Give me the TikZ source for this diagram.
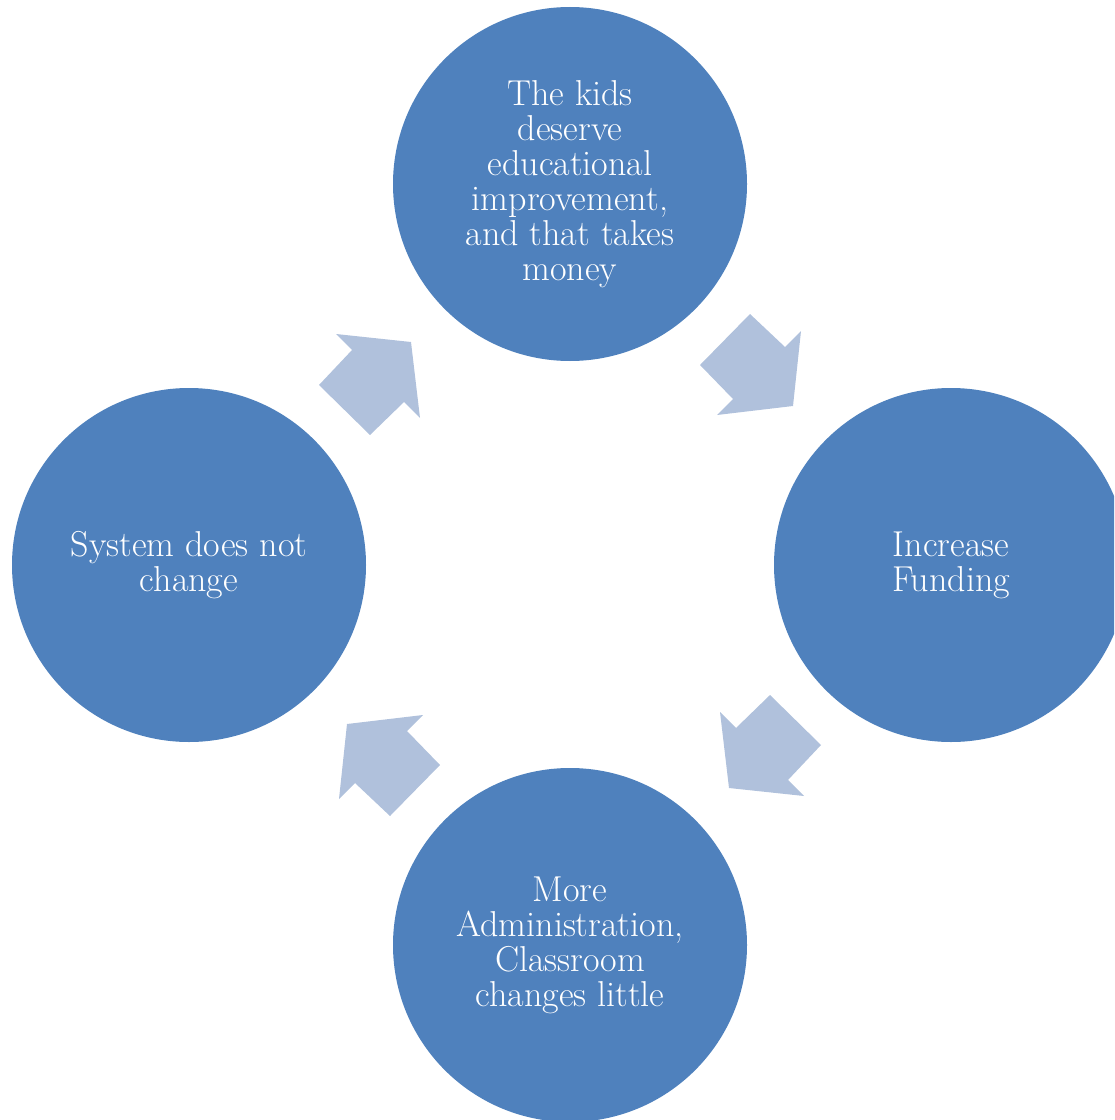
\documentclass[tikz,border=0pt]{standalone}
\usepackage{fontspec}
\definecolor{circblue}{RGB}{79,129,189}
\definecolor{arrowblue}{RGB}{176,193,220}
\begin{document}
\begin{tikzpicture}[x=0.75pt,y=-0.75pt,
  stage/.style={circle, fill=circblue, minimum size=265.5pt, inner sep=0pt,
    text=white, align=center, font=\fontsize{27}{26.25}\selectfont},
  blockarrow/.style={fill=arrowblue}]
\useasboundingbox (0,0) rectangle (1114,1120);
\clip (0,0) rectangle (1114,1120);
\node[stage] (top) at (570,184) {The kids\\deserve\\educational\\improvement,\\and that takes\\money};
\node[stage] (right) at (951,565) {Increase\\Funding};
\node[stage] (bottom) at (570,945) {More\\Administration,\\Classroom\\changes little};
\node[stage] (left) at (189,565) {System does not\\change};
% block arrows (cycle, rotated copies)
\fill[blockarrow] (801,331) -- (793,406) -- (717,415) -- (733,399) -- (700,365) -- (750,314) -- (785,347) -- cycle;
\fill[blockarrow] (804,796) -- (729,788) -- (720,712) -- (736,728) -- (770,695) -- (821,745) -- (788,780) -- cycle;
\fill[blockarrow] (339,799) -- (347,724) -- (423,715) -- (407,731) -- (440,765) -- (390,816) -- (355,783) -- cycle;
\fill[blockarrow] (336,334) -- (411,342) -- (420,418) -- (404,402) -- (370,435) -- (319,385) -- (352,350) -- cycle;
\end{tikzpicture}
\end{document}
